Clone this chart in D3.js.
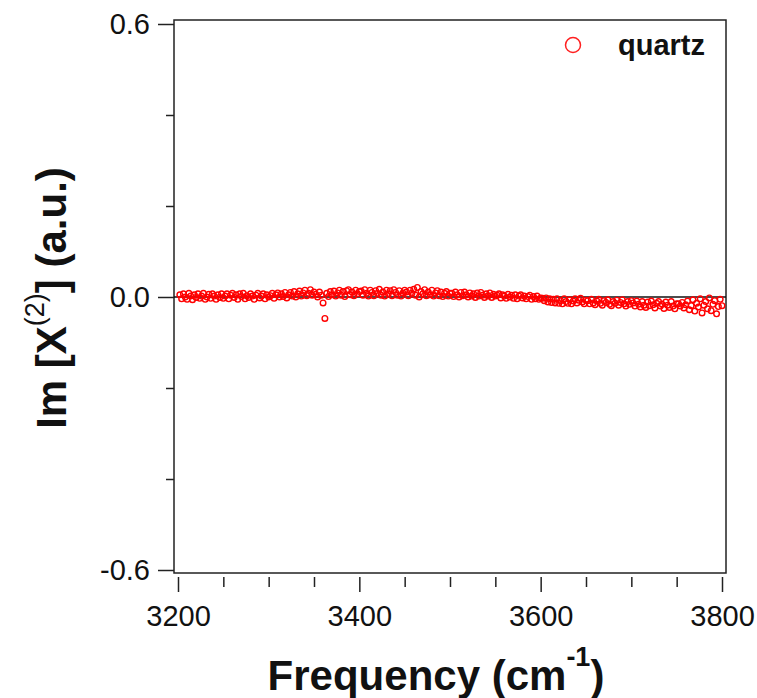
<!DOCTYPE html>
<html>
<head>
<meta charset="utf-8">
<script src="https://cdn.jsdelivr.net/npm/d3@7"></script>
<style>
    body { margin: 0; background: #fff; }
    svg { display: block; font-family: Arial, "Liberation Sans", sans-serif; }
</style>
</head>
<body>
<div id="stage"></div>
<script>
// frequency axis of the spectrum, one point every 2 cm-1
var FREQ_START = 3202;
var FREQ_STEP = 2;

// Im[X(2)] values, 25 points per 50 cm-1 block
var imChi = [
    // 3202 - 3250
    0.005,-0.004,0.007,0.000,-0.005,0.008,0.002,-0.006,0.005,-0.001,0.007,-0.003,0.002,0.008,-0.005,0.000,0.006,-0.003,0.007,0.002,-0.005,0.005,-0.001,0.007,-0.003,
    // 3252 - 3300
    0.002,0.007,-0.004,0.004,0.008,-0.001,0.005,-0.005,0.007,0.001,0.008,-0.004,0.003,-0.001,0.007,0.002,-0.005,0.004,0.008,-0.002,0.002,0.007,-0.004,0.005,0.000,
    // 3302 - 3350
    0.003,0.008,-0.003,0.005,0.009,0.000,0.007,0.001,0.010,-0.002,0.005,0.010,0.002,0.012,0.000,0.007,0.013,0.002,0.009,0.015,0.003,0.008,0.016,0.004,0.011,
    // 3352 - 3400
    0.006,0.000,0.011,0.004,-0.013,-0.047,0.008,0.001,0.012,0.005,0.013,0.002,0.009,0.015,0.004,0.012,0.001,0.014,0.016,0.005,0.011,0.003,0.015,0.007,0.012,
    // 3402 - 3450
    0.013,0.004,0.016,0.008,0.002,0.015,0.010,0.003,0.014,0.008,0.017,0.004,0.011,0.002,0.015,0.007,0.014,0.003,0.016,0.010,0.004,0.014,0.002,0.009,0.015,
    // 3452 - 3500
    0.011,0.003,0.015,0.008,0.017,0.004,0.021,0.000,0.012,0.007,0.016,0.003,0.011,0.005,0.015,0.002,0.009,0.014,0.003,0.011,0.001,0.008,0.012,0.002,0.008,
    // 3502 - 3550
    0.008,0.001,0.011,0.005,0.000,0.010,0.003,0.011,0.005,0.000,0.009,0.002,0.007,-0.001,0.009,0.002,0.010,0.004,-0.001,0.007,0.002,0.009,-0.001,0.006,0.002,
    // 3552 - 3600
    0.004,0.007,-0.002,0.005,0.002,-0.003,0.006,0.000,0.004,-0.003,0.005,-0.004,0.002,0.005,-0.002,0.002,-0.004,0.001,0.004,-0.005,0.001,-0.004,0.002,-0.005,-0.002,
    // 3602 - 3650
    -0.003,-0.008,-0.002,-0.011,-0.004,-0.012,-0.005,-0.013,-0.004,-0.014,-0.008,-0.015,-0.004,-0.010,-0.014,-0.006,-0.015,-0.009,-0.004,-0.013,-0.007,-0.003,-0.011,-0.015,-0.007,
    // 3652 - 3700
    -0.008,-0.015,-0.005,-0.013,-0.017,-0.009,-0.005,-0.014,-0.018,-0.008,-0.012,-0.006,-0.016,-0.019,-0.010,-0.014,-0.007,-0.018,-0.012,-0.006,-0.015,-0.020,-0.010,-0.016,-0.008,
    // 3702 - 3750
    -0.013,-0.020,-0.009,-0.016,-0.022,-0.010,-0.018,-0.023,-0.011,-0.019,-0.009,-0.017,-0.024,-0.014,-0.010,-0.020,-0.016,-0.025,-0.011,-0.018,-0.023,-0.010,-0.020,-0.026,-0.015,
    // 3752 - 3800
    -0.015,-0.020,-0.012,-0.024,-0.017,-0.009,-0.028,-0.019,-0.006,-0.031,-0.014,-0.022,-0.004,-0.035,-0.018,-0.010,-0.026,-0.002,-0.030,-0.016,-0.008,-0.037,-0.021,-0.005,-0.019
];

var xMajorTicks = [3200, 3400, 3600, 3800];
var xMinorTicks = [3250, 3300, 3350, 3450, 3500, 3550, 3650, 3700, 3750];
var yMajorTicks = [-0.6, 0.0, 0.6];
var yMinorTicks = [-0.4, -0.2, 0.2, 0.4];
var seriesName = "quartz";

var WIDTH = 757, HEIGHT = 698;
var frame = {left: 174, right: 726, top: 20, bottom: 573};

var svg = d3.select("#stage").append("svg")
    .attr("width", WIDTH)
    .attr("height", HEIGHT);

var x = d3.scaleLinear().domain([3200, 3800]).range([178, 722]);
var y = d3.scaleLinear().domain([-0.6, 0.6]).range([570, 24]);

var points = imChi.map(function(v, i) { return {f: FREQ_START + i*FREQ_STEP, v: v}; });

// plot frame
svg.append("rect")
    .attr("x", frame.left)
    .attr("y", frame.top)
    .attr("width", frame.right - frame.left)
    .attr("height", frame.bottom - frame.top)
    .style("fill", "none")
    .style("stroke", "#222")
    .style("stroke-width", 1.5);

// zero line
svg.append("line")
    .attr("x1", frame.left).attr("x2", frame.right)
    .attr("y1", y(0)).attr("y2", y(0))
    .style("stroke", "#111")
    .style("stroke-width", 1.5);

// x axis sits a bit below the frame, ticks pointing down
var xMajor = svg.append("g")
    .attr("transform", "translate(0," + (frame.bottom + 4) + ")")
    .call(d3.axisBottom(x).tickValues(xMajorTicks).tickSize(15).tickPadding(13).tickFormat(d3.format("d")));
var xMinor = svg.append("g")
    .attr("transform", "translate(0," + (frame.bottom + 4) + ")")
    .call(d3.axisBottom(x).tickValues(xMinorTicks).tickSize(10).tickFormat(""));

// y axis on the frame's left edge, ticks pointing out
var yMajor = svg.append("g")
    .attr("transform", "translate(" + frame.left + ",0)")
    .call(d3.axisLeft(y).tickValues(yMajorTicks).tickSize(16).tickPadding(8)
        .tickFormat(function(d) { return d3.format(".1f")(d).replace("\u2212", "-"); }));
var yMinor = svg.append("g")
    .attr("transform", "translate(" + frame.left + ",0)")
    .call(d3.axisLeft(y).tickValues(yMinorTicks).tickSize(8).tickFormat(""));

[xMajor, xMinor, yMajor, yMinor].forEach(function(g) {
    g.select(".domain").remove();
    g.selectAll(".tick line").style("stroke", "#222").style("stroke-width", 1.5);
    g.selectAll(".tick text")
        .style("font-family", "Arial, 'Liberation Sans', sans-serif")
        .style("font-size", "29px")
        .style("fill", "#111");
});

// data as open red circles
svg.append("g").selectAll("circle")
    .data(points)
    .join("circle")
    .attr("cx", function(d) { return x(d.f); })
    .attr("cy", function(d) { return y(d.v); })
    .attr("r", 2.8)
    .style("fill", "none")
    .style("stroke", "#ff0000")
    .style("stroke-width", 1.4);

// legend
svg.append("circle")
    .attr("cx", 573).attr("cy", 45).attr("r", 7.5)
    .style("fill", "none")
    .style("stroke", "#ff2020")
    .style("stroke-width", 1.5);
svg.append("text")
    .attr("x", 618).attr("y", 55)
    .style("font-size", "29px")
    .style("font-weight", "bold")
    .style("fill", "#111")
    .text(seriesName);

// y title: Im [X^(2)] (a.u.)
var yTitle = svg.append("text")
    .attr("transform", "translate(66,298) rotate(-90)")
    .attr("text-anchor", "middle")
    .style("font-size", "42px")
    .style("font-weight", "bold")
    .style("fill", "#111");
yTitle.append("tspan").text("Im [X");
yTitle.append("tspan").attr("dy", -22).style("font-size", "27px").style("font-weight", "normal").text("(2)");
yTitle.append("tspan").attr("dy", 22).text("] (a.u.)");

// x title: Frequency (cm^-1)
var xTitle = svg.append("text")
    .attr("x", 436).attr("y", 690)
    .attr("text-anchor", "middle")
    .style("font-size", "42px")
    .style("font-weight", "bold")
    .style("fill", "#111");
xTitle.append("tspan").text("Frequency (cm");
xTitle.append("tspan").attr("dy", -24).style("font-size", "27px").text("-1");
xTitle.append("tspan").attr("dy", 24).text(")");
</script>
</body>
</html>
